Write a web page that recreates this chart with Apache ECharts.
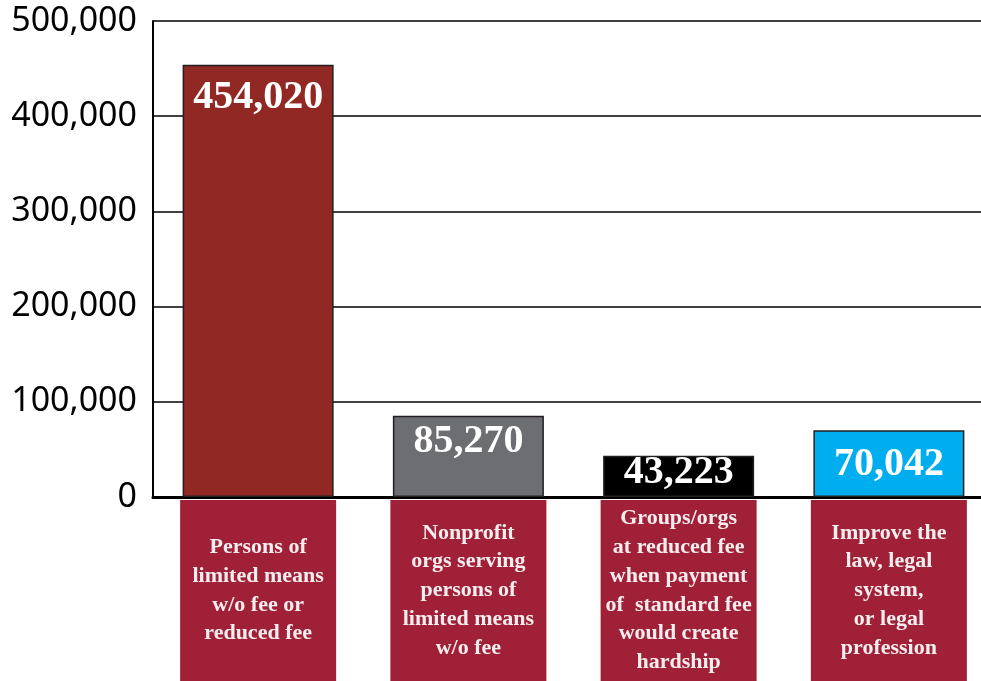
<!DOCTYPE html>
<html>
<head>
<meta charset="utf-8">
<script src="https://cdn.jsdelivr.net/npm/echarts@6/dist/echarts.min.js"></script>
<style>
html,body{margin:0;padding:0;background:#fff}
#main{width:981px;height:681px}
</style>
</head>
<body>
<div id="main"></div>
<script>
// categories (one line per row in the label boxes)
let categories = [
    ['Persons of', 'limited means', 'w/o fee or', 'reduced fee'],
    ['Nonprofit', 'orgs serving', 'persons of', 'limited means', 'w/o fee'],
    ['Groups/orgs', 'at reduced fee', 'when payment', 'of  standard fee', 'would create', 'hardship'],
    ['Improve the', 'law, legal', 'system,', 'or legal', 'profession']
]
let values = [454020, 85270, 43223, 70042]
let barColors = ['#922824', '#6d6e71', '#000000', '#00aeef']
let yMax = 500000
let yStep = 100000

// label tweaks
let labelDist = [13, 6, -3, 14]
let lh = 28.8
let boxH = 181

let rich = {
    t: {
        fontFamily: 'Liberation Serif',
        fontWeight: 'bold',
        fontSize: 22,
        color: '#f6eeee',
        lineHeight: lh,
        align: 'center'
    }
}
for (let n = 3; n <= 7; n++) {
    let pad = (boxH - n * lh) / 2
    rich['s' + n] = {fontSize: 4, lineHeight: pad, height: pad, align: 'center'}
}

let seriesData = values.map(function (v, i) {
    return {
        value: v,
        itemStyle: {color: barColors[i]},
        label: {distance: labelDist[i]}
    }
})

var myChart = echarts.init(document.getElementById('main'))
var option = {
    animation: false,
    grid: {
        left: 153,
        top: 21,
        bottom: 184,
        width: 841,
        outerBoundsMode: 'none'
    },
    xAxis: {
        type: 'category',
        data: categories.map(function (c) { return c.join('\n') }),
        axisLine: {lineStyle: {color: '#000', width: 3}},
        axisTick: {show: false},
        axisLabel: {
            interval: 0,
            margin: 3,
            width: 156,
            backgroundColor: '#a02137',
            formatter: function (val) {
                let lines = val.split('\n')
                let sp = '{s' + lines.length + '| }'
                return sp + '\n' + lines.map(function (l) { return '{t|' + l + '}' }).join('\n') + '\n' + sp
            },
            rich: rich
        }
    },
    yAxis: {
        type: 'value',
        min: 0,
        max: yMax,
        interval: yStep,
        axisLine: {show: true, lineStyle: {color: '#000', width: 2}},
        axisTick: {show: false},
        splitLine: {lineStyle: {color: '#000', width: 1.5}},
        axisLabel: {
            margin: 16,
            fontFamily: 'Noto Sans',
            fontSize: 34,
            color: '#000',
            formatter: function (v) { return v.toLocaleString('en-US') }
        }
    },
    series: [{
        type: 'bar',
        data: seriesData,
        barWidth: 151,
        itemStyle: {borderColor: '#231f20', borderWidth: 1.5},
        label: {
            show: true,
            position: 'insideTop',
            fontFamily: 'Liberation Serif',
            fontWeight: 'bold',
            fontSize: 40,
            color: '#fff',
            formatter: function (p) { return p.value.toLocaleString('en-US') }
        }
    }]
}
myChart.setOption(option)
</script>
</body>
</html>
